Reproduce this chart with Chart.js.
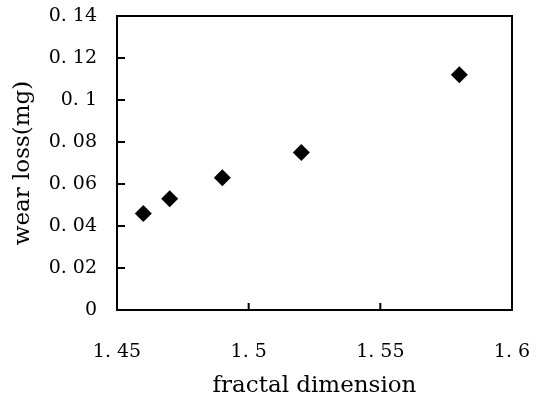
<!DOCTYPE html>
<html>
<head>
<meta charset="utf-8">
<script src="https://cdn.jsdelivr.net/npm/chart.js@4.4.1/dist/chart.umd.min.js"></script>
<style>
  html, body { margin: 0; padding: 0; background: #fff; }
  #wrap { width: 536px; height: 405px; }
</style>
</head>
<body>
<div id="wrap"><canvas id="myChart" width="536" height="405"></canvas></div>
<script>
  // data
  const fractalDimension = [1.46, 1.47, 1.49, 1.52, 1.58]
  const wearLoss = [0.046, 0.053, 0.063, 0.075, 0.112]
  const xTicks = [1.45, 1.5, 1.55, 1.6]
  const yTicks = [0, 0.02, 0.04, 0.06, 0.08, 0.1, 0.12, 0.14]

  const fontFamily = '"DejaVu Serif", "Liberation Serif", serif'

  // label like "0. 14"
  function fmt(v) {
    return String(Number(v.toFixed(2))).replace('.', '. ')
  }

  // no extra room for label overhang, the layout is fixed below
  function noPad(s) {
    s.paddingTop = 0
    s.paddingBottom = 0
    s.paddingLeft = 0
    s.paddingRight = 0
  }

  // box frame + inward tick marks
  const frame = {
    id: 'frame',
    afterDraw(chart) {
      const c = chart.ctx
      const a = chart.chartArea
      const xs = chart.scales.x
      const ys = chart.scales.y
      c.save()
      c.strokeStyle = '#000'
      c.lineWidth = 2
      c.strokeRect(a.left, a.top, a.right - a.left, a.bottom - a.top)
      c.beginPath()
      xs.ticks.forEach((t, i) => {
        const px = xs.getPixelForTick(i)
        c.moveTo(px, a.bottom)
        c.lineTo(px, a.bottom - 7)
      })
      ys.ticks.forEach((t, i) => {
        const py = ys.getPixelForTick(i)
        c.moveTo(a.left, py)
        c.lineTo(a.left + 8, py)
      })
      c.stroke()
      c.restore()
    }
  }

  const ctx = document.getElementById('myChart')
  // eslint-disable-next-line no-unused-vars
  const myChart = new Chart(ctx, {
    type: 'scatter',
    data: {
      datasets: [{
        data: fractalDimension.map((x, i) => ({ x: x, y: wearLoss[i] })),
        pointStyle: 'rectRot',
        pointRadius: 8.5,
        pointHoverRadius: 8.5,
        backgroundColor: '#000',
        borderColor: '#000',
        borderWidth: 0
      }]
    },
    options: {
      responsive: false,
      animation: false,
      layout: { padding: { top: 16, right: 24, left: 0, bottom: 0 } },
      plugins: {
        legend: { display: false },
        tooltip: { enabled: false }
      },
      scales: {
        x: {
          type: 'linear',
          min: 1.45,
          max: 1.6,
          afterFit: s => { s.height = 95; noPad(s) },
          afterBuildTicks: s => { s.ticks = xTicks.map(v => ({ value: v })) },
          grid: { display: false, drawTicks: false },
          border: { display: false },
          ticks: {
            padding: 31,
            color: '#000',
            maxRotation: 0,
            font: { family: fontFamily, size: 19 },
            callback: v => fmt(v)
          },
          title: {
            display: true,
            text: 'fractal dimension',
            color: '#000',
            font: { family: fontFamily, size: 23 },
            padding: { top: 0, bottom: 5 }
          }
        },
        y: {
          type: 'linear',
          min: 0,
          max: 0.14,
          afterFit: s => { s.width = 117; noPad(s) },
          afterBuildTicks: s => { s.ticks = yTicks.map(v => ({ value: v })) },
          grid: { display: false, drawTicks: false },
          border: { display: false },
          ticks: {
            padding: 20,
            color: '#000',
            font: { family: fontFamily, size: 19 },
            callback: v => fmt(v)
          },
          title: {
            display: true,
            text: 'wear loss(mg)',
            color: '#000',
            font: { family: fontFamily, size: 23 },
            padding: { top: 9, bottom: 0 }
          }
        }
      }
    },
    plugins: [frame]
  })
</script>
</body>
</html>
